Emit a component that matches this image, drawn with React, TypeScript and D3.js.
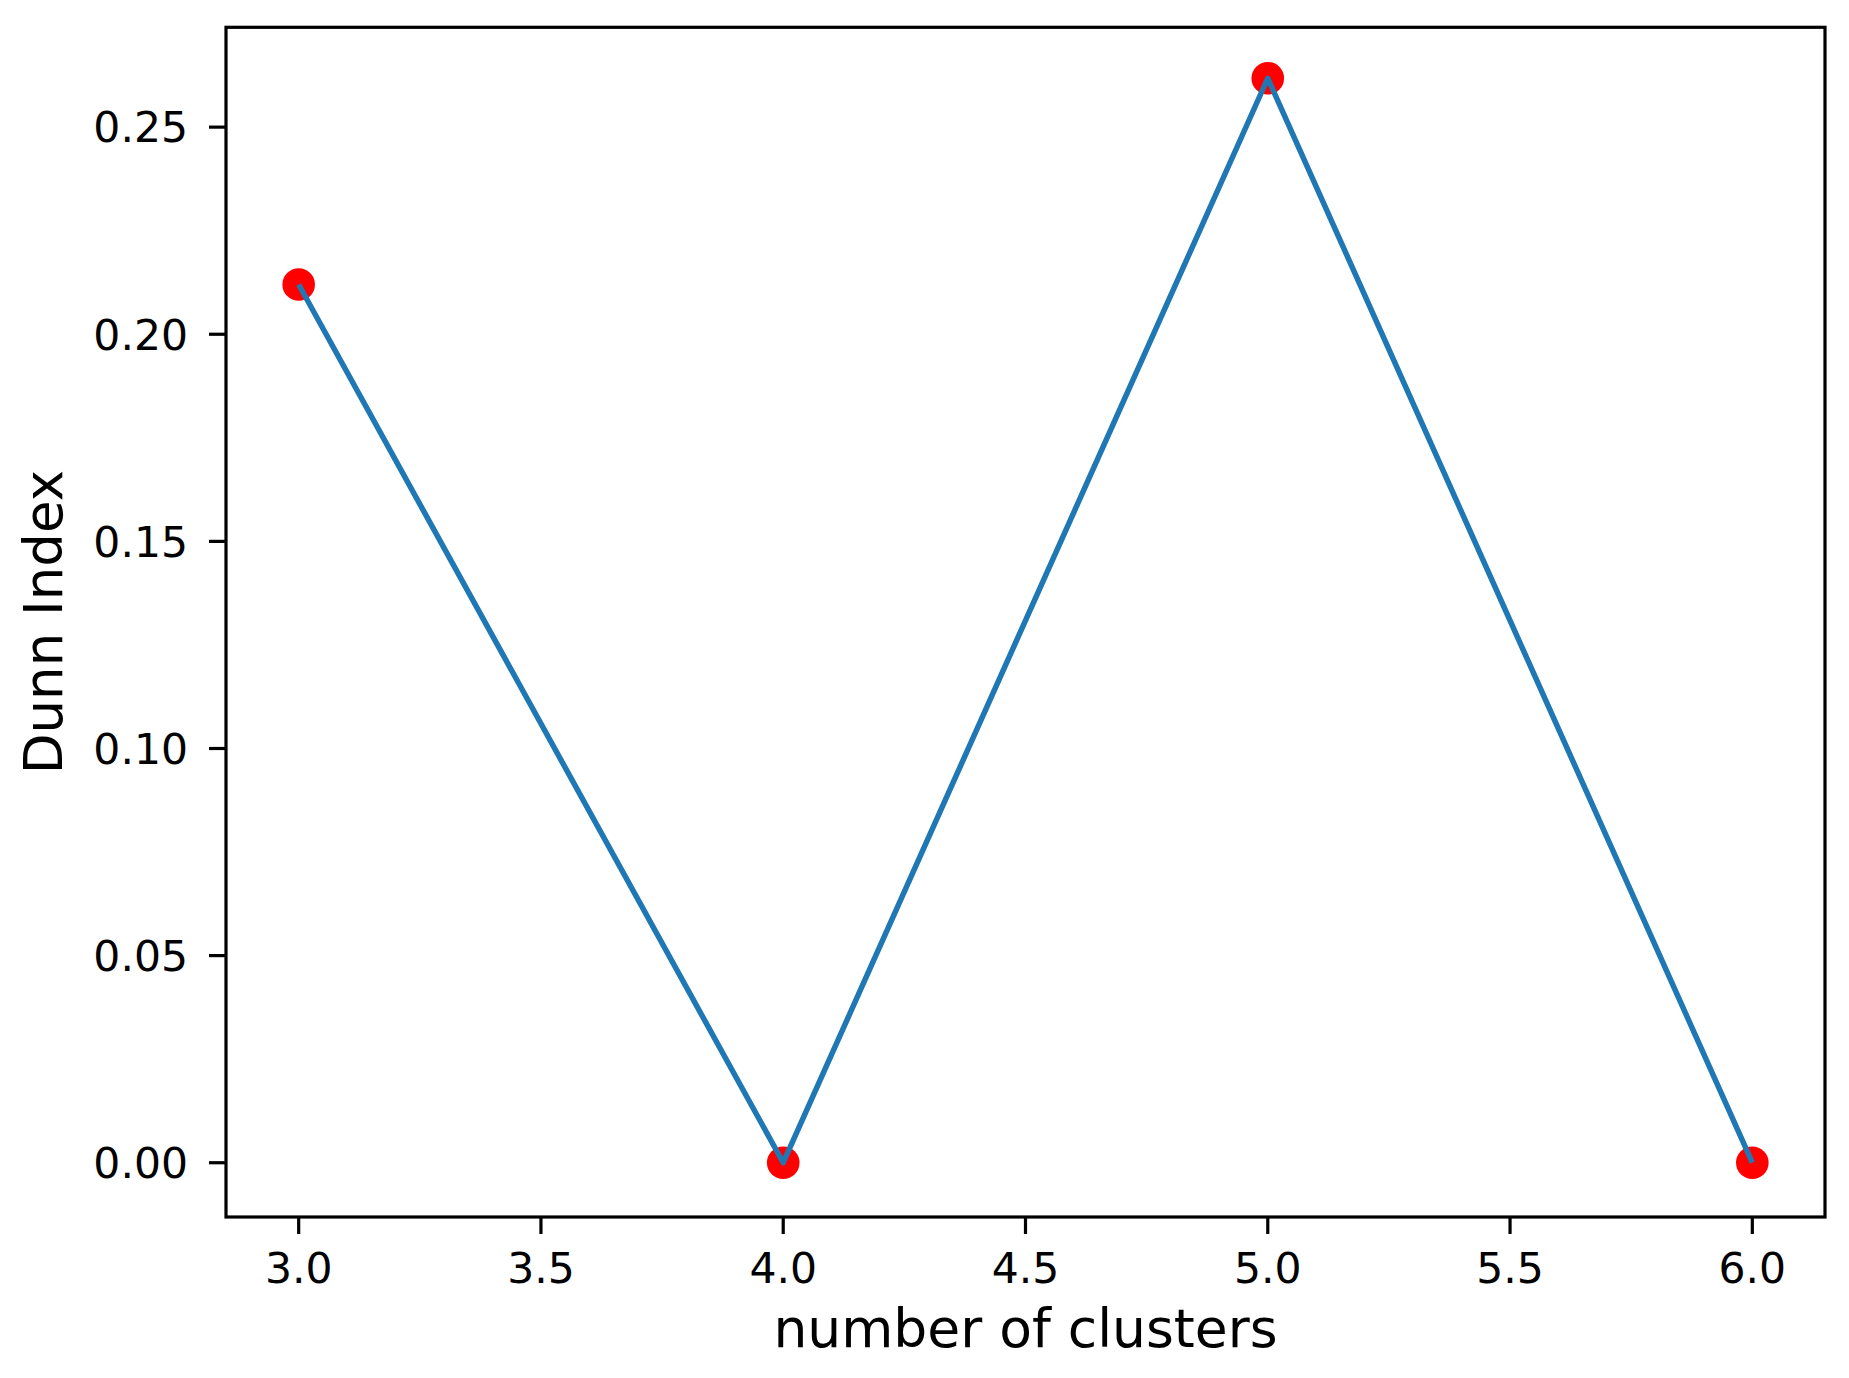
import React from "react";
import * as d3 from "d3";

const clusters = [3, 4, 5, 6];
const dunnIndex = [0.212, 0.0, 0.2618, 0.0];
const xTicks = [3.0, 3.5, 4.0, 4.5, 5.0, 5.5, 6.0];
const yTicks = [0.0, 0.05, 0.1, 0.15, 0.2, 0.25];
const yDomain = [-0.0131, 0.2741];
const xLabel = "number of clusters";
const yLabel = "Dunn Index";

const W = 1849;
const H = 1378;
const M = { left: 226, top: 27.3, right: 1849 - 1825, bottom: 1378 - 1217 };
const FONT = "DejaVu Sans, sans-serif";

export default function App() {
  const x0 = d3.min(clusters)!;
  const x1 = d3.max(clusters)!;
  const xPad = (x1 - x0) * 0.05;

  const x = d3.scaleLinear().domain([x0 - xPad, x1 + xPad]).range([M.left, W - M.right]);
  const y = d3.scaleLinear().domain(yDomain).range([H - M.bottom, M.top]);

  const pts: [number, number][] = clusters.map((c, i) => [c, dunnIndex[i]]);
  const line = d3
    .line<[number, number]>()
    .x((d) => x(d[0]))
    .y((d) => y(d[1]));

  const tickLen = 17;
  const sw = 3.2;
  const bottom = H - M.bottom;

  return (
    <div style={{ position: "absolute", left: 0, top: 0 }}>
      <svg width={W} height={H} style={{ display: "block", background: "#fff" }}>
        <rect x={0} y={0} width={W} height={H} fill="#fff" />
        {pts.map((p, i) => (
          <circle key={i} cx={x(p[0])} cy={y(p[1])} r={16.3} fill="#ff0000" />
        ))}
        <path d={line(pts) || ""} fill="none" stroke="#1f77b4" strokeWidth={5.5} strokeLinejoin="round" />
        <rect
          x={M.left}
          y={M.top}
          width={W - M.right - M.left}
          height={bottom - M.top}
          fill="none"
          stroke="#000"
          strokeWidth={sw}
        />
        {xTicks.map((t) => (
          <g key={"x" + t}>
            <line x1={x(t)} x2={x(t)} y1={bottom} y2={bottom + tickLen} stroke="#000" strokeWidth={sw} />
            <text
              x={x(t)}
              y={1283}
              textAnchor="middle"
              fontFamily={FONT}
              fontSize={42.5}
              fill="#000"
            >
              {t.toFixed(1)}
            </text>
          </g>
        ))}
        {yTicks.map((t) => (
          <g key={"y" + t}>
            <line x1={M.left - tickLen} x2={M.left} y1={y(t)} y2={y(t)} stroke="#000" strokeWidth={sw} />
            <text
              x={188}
              y={y(t)}
              dy="0.36em"
              textAnchor="end"
              fontFamily={FONT}
              fontSize={42.5}
              fill="#000"
            >
              {t.toFixed(2)}
            </text>
          </g>
        ))}
        <text
          x={(M.left + W - M.right) / 2}
          y={1347}
          textAnchor="middle"
          fontFamily={FONT}
          fontSize={53.5}
          fill="#000"
        >
          {xLabel}
        </text>
        <text
          transform={`translate(62,${(M.top + bottom) / 2}) rotate(-90)`}
          textAnchor="middle"
          fontFamily={FONT}
          fontSize={53}
          fill="#000"
        >
          {yLabel}
        </text>
      </svg>
    </div>
  );
}
